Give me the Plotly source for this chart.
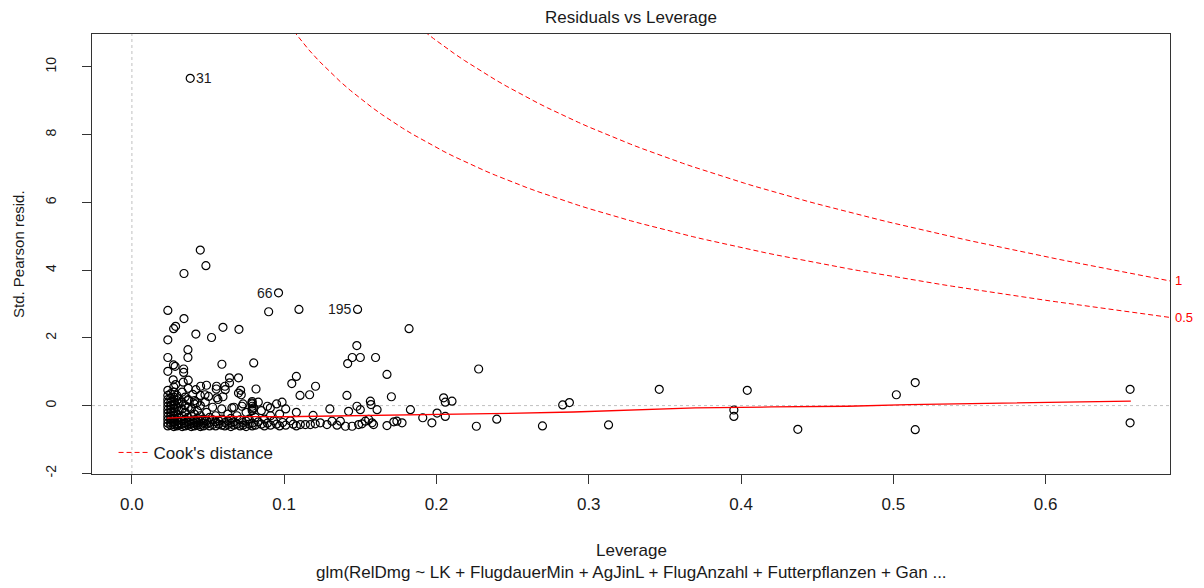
import numpy as np
import plotly.graph_objects as go

# ---- observations: leverage (hat values) and standardized Pearson residuals ----
# labelled observations
id_labels = ["31", "66", "195"]
id_leverage = [0.0383, 0.0963, 0.1482]
id_resid = [9.66, 3.33, 2.84]

# points well above zero
high_leverage = [0.0449, 0.0486, 0.0342, 0.0898, 0.1097, 0.0236, 0.0342, 0.0287, 0.0274,
                 0.0420, 0.0598, 0.0703, 0.1820, 0.0236, 0.0523, 0.2277, 0.1477, 0.1417,
                 0.1447, 0.1500, 0.1600, 0.1675, 0.1704, 0.1412, 0.0236, 0.0236, 0.0368,
                 0.0368, 0.0273, 0.0284, 0.0340, 0.0340, 0.0591, 0.0800]
high_resid = [4.59, 4.13, 3.90, 2.77, 2.84, 2.81, 2.57, 2.34, 2.27,
              2.11, 2.31, 2.25, 2.27, 1.94, 2.01, 1.08, 1.77, 1.24,
              1.42, 1.42, 1.42, 0.92, 0.26, 0.30, 1.42, 1.01, 1.65,
              1.42, 1.20, 1.16, 1.08, 0.98, 1.22, 1.26]

# points around zero
mid_leverage = [0.0271, 0.0287, 0.0370, 0.0337, 0.0641, 0.0700, 0.0641, 0.0611, 0.0451,
                0.0490, 0.0556, 0.0554, 0.0370, 0.0420, 0.0400, 0.0449, 0.0411, 0.0482,
                0.0503, 0.0565, 0.0598, 0.0714, 0.0718, 0.0815, 0.1050, 0.1080, 0.1206,
                0.1167, 0.1104, 0.0986, 0.1300, 0.1478, 0.1500, 0.1566, 0.1570, 0.1610,
                0.1829, 0.2047, 0.2058, 0.2102, 0.2004, 0.2058, 0.1423, 0.1190, 0.0613,
                0.0657, 0.0700, 0.0723, 0.0788, 0.0800, 0.0909, 0.0427, 0.0480, 0.0558,
                0.0370, 0.0790, 0.0790, 0.0790, 0.0790]
mid_resid = [0.76, 0.62, 0.75, 0.69, 0.82, 0.82, 0.67, 0.57, 0.57,
             0.60, 0.57, 0.49, 0.51, 0.47, 0.33, 0.30, 0.15, 0.10,
             0.27, 0.18, 0.26, 0.45, 0.32, 0.49, 0.65, 0.86, 0.57,
             0.32, 0.30, 0.10, -0.10, -0.02, -0.12, 0.13, 0.03, -0.12,
             -0.12, 0.23, 0.10, 0.13, -0.22, -0.32, -0.17, -0.29, 0.47,
             -0.07, 0.37, -0.02, 0.08, -0.07, -0.07, 0.08, 0.32, 0.23,
             0.18, 0.12, 0.05, -0.02, -0.10]

# dense band of small negative residuals
band_leverage = [
    0.0236, 0.0236, 0.0236, 0.0236, 0.0236, 0.0236, 0.0236, 0.0236, 0.0236, 0.0236, 0.0236,
    0.0255, 0.0255, 0.0255, 0.0255, 0.0255, 0.0255, 0.0255, 0.0255, 0.0255, 0.0255,
    0.0275, 0.0275, 0.0275, 0.0275, 0.0275, 0.0275, 0.0275, 0.0275, 0.0275, 0.0275, 0.0275, 0.0275,
    0.0295, 0.0295, 0.0295, 0.0295, 0.0295, 0.0295, 0.0295,
    0.0310, 0.0310, 0.0310, 0.0310, 0.0310, 0.0310,
    0.0330, 0.0330, 0.0330, 0.0330, 0.0330, 0.0330, 0.0330,
    0.0350, 0.0350, 0.0350, 0.0350, 0.0350, 0.0350,
    0.0370, 0.0370, 0.0370, 0.0370, 0.0370,
    0.0390, 0.0390, 0.0390, 0.0390, 0.0390,
    0.0410, 0.0410, 0.0410, 0.0410, 0.0410,
    0.0430, 0.0430, 0.0430, 0.0430,
    0.0450, 0.0450, 0.0450, 0.0450, 0.0450,
    0.0470, 0.0470, 0.0470,
    0.0490, 0.0490, 0.0490,
    0.0510, 0.0510, 0.0510,
    0.0530, 0.0530, 0.0530,
    0.0550, 0.0550, 0.0550,
    0.0570, 0.0570,
    0.0590, 0.0590, 0.0590,
    0.0610, 0.0610,
    0.0630, 0.0630, 0.0630,
    0.0650, 0.0650, 0.0650,
    0.0670, 0.0670, 0.0670,
    0.0690, 0.0690,
    0.0710, 0.0710,
    0.0730, 0.0730, 0.0730,
    0.0750, 0.0750, 0.0750,
    0.0770, 0.0770,
    0.0790, 0.0790, 0.0790,
    0.0810, 0.0810,
    0.0830, 0.0830,
    0.0850, 0.0850,
    0.0870, 0.0870,
    0.0890, 0.0890,
    0.0910, 0.0910,
    0.0930,
    0.0950, 0.0950,
    0.0970, 0.0970,
    0.0990,
    0.1010, 0.1010,
    0.1040,
    0.1060,
    0.1080, 0.1080,
    0.1106, 0.1139, 0.1172, 0.1204, 0.1237, 0.1281, 0.1314, 0.1347, 0.1369, 0.1402,
    0.1446, 0.1489, 0.1511, 0.1533, 0.1555, 0.1577, 0.1587,
]
band_resid = [
    0.45, 0.30, 0.18, 0.08, -0.02, -0.12, -0.22, -0.32, -0.42, -0.52, -0.60,
    0.35, 0.22, 0.10, 0.00, -0.10, -0.20, -0.30, -0.40, -0.50, -0.58,
    0.55, 0.40, 0.25, 0.12, 0.02, -0.08, -0.18, -0.28, -0.38, -0.48, -0.56, -0.62,
    0.30, 0.15, -0.05, -0.25, -0.45, -0.55, -0.60,
    0.20, 0.05, -0.15, -0.35, -0.50, -0.58,
    0.40, 0.10, -0.10, -0.30, -0.45, -0.55, -0.62,
    0.25, 0.00, -0.20, -0.40, -0.52, -0.60,
    0.15, -0.05, -0.35, -0.48, -0.58,
    -0.10, -0.30, -0.45, -0.55, -0.62,
    0.05, -0.25, -0.42, -0.52, -0.60,
    -0.15, -0.38, -0.50, -0.58,
    0.00, -0.30, -0.46, -0.56, -0.62,
    -0.40, -0.52, -0.60,
    -0.20, -0.45, -0.55,
    -0.35, -0.50, -0.60,
    -0.05, -0.42, -0.56,
    -0.30, -0.48, -0.60,
    -0.45, -0.55,
    -0.10, -0.40, -0.58,
    -0.50, -0.60,
    -0.25, -0.45, -0.56,
    -0.38, -0.52, -0.62,
    -0.05, -0.48, -0.58,
    -0.30, -0.55,
    -0.42, -0.60,
    0.05, -0.50, -0.58,
    -0.20, -0.46, -0.62,
    -0.40, -0.55,
    -0.15, -0.52, -0.60,
    -0.35, -0.58,
    0.10, -0.48,
    -0.15, -0.55,
    -0.40, -0.60,
    -0.02, -0.52,
    -0.30, -0.58,
    -0.45,
    0.05, -0.55,
    -0.25, -0.60,
    -0.50,
    -0.10, -0.58,
    -0.45,
    -0.55,
    -0.20, -0.60,
    -0.56, -0.56, -0.56, -0.54, -0.51, -0.56, -0.46, -0.58, -0.46, -0.61,
    -0.61, -0.56, -0.54, -0.46, -0.41, -0.51, -0.56,
]

# sparse points at higher leverage
right_leverage = [0.2262, 0.1970, 0.1910, 0.1740, 0.1774, 0.1720, 0.1675, 0.2396, 0.2696,
                  0.2829, 0.2873, 0.3130, 0.3463, 0.3953, 0.3953, 0.4041, 0.4373, 0.5020,
                  0.5144, 0.5144, 0.6555, 0.6555]
right_resid = [-0.61, -0.51, -0.36, -0.46, -0.51, -0.48, -0.59, -0.40, -0.60,
               0.02, 0.09, -0.57, 0.48, -0.13, -0.32, 0.45, -0.70, 0.32,
               0.68, -0.71, 0.48, -0.51]

# smoother through the residuals
smooth_leverage = [0.023, 0.050, 0.100, 0.150, 0.190, 0.235, 0.290, 0.340, 0.370,
                   0.420, 0.470, 0.510, 0.540, 0.600, 0.656]
smooth_resid = [-0.37, -0.32, -0.33, -0.30, -0.27, -0.24, -0.19, -0.12, -0.07,
                -0.04, -0.02, 0.03, 0.05, 0.09, 0.13]

# Cook's distance contours
n_params = 29
cook_levels = [0.5, 1.0]

x_range = [-0.0262, 0.6817]
y_range = [-2.02, 10.97]
x_ticks = [0.0, 0.1, 0.2, 0.3, 0.4, 0.5, 0.6]
y_ticks = [-2, 0, 2, 4, 6, 8, 10]

leverage = id_leverage + high_leverage + mid_leverage + band_leverage + right_leverage
std_resid = id_resid + high_resid + mid_resid + band_resid + right_resid

FONT = "Liberation Sans, Arial, sans-serif"
INK = "#1a1a1a"

fig = go.Figure()

fig.add_trace(go.Scatter(
    x=leverage, y=std_resid, mode="markers", showlegend=False,
    marker=dict(symbol="circle-open", size=8, color="black", line=dict(width=1.2, color="black")),
    hoverinfo="x+y",
))

fig.add_trace(go.Scatter(
    x=smooth_leverage, y=smooth_resid, mode="lines", showlegend=False,
    line=dict(color="#ff0000", width=1.3),
))

hh = np.linspace(0.0005, x_range[1], 101)
for i, level in enumerate(cook_levels):
    fig.add_trace(go.Scatter(
        x=hh, y=np.sqrt(level * n_params * (1 - hh) / hh), mode="lines",
        name="Cook's distance", showlegend=(i == 0),
        line=dict(color="#ff0000", width=1, dash="5px,3px"),
    ))

# contour labels at the right edge
for level in cook_levels:
    y_end = float(np.sqrt(level * n_params * (1 - x_range[1]) / x_range[1]))
    fig.add_annotation(
        x=1, xref="paper", y=y_end, yref="y", text=f"{level:g}", showarrow=False,
        xanchor="left", yanchor="middle", xshift=3,
        font=dict(family=FONT, size=13, color="#ff0000"),
    )

# labels of the most extreme observations
for lab, hx, ry in zip(id_labels, id_leverage, id_resid):
    right_side = hx < 0.05
    fig.add_annotation(
        x=hx, y=ry, text=lab, showarrow=False,
        xanchor="left" if right_side else "right", yanchor="middle",
        xshift=4 if right_side else -4,
        font=dict(family=FONT, size=14, color=INK),
    )

# dotted reference lines at zero
fig.add_shape(type="line", xref="x", yref="paper", x0=0, x1=0, y0=0, y1=1,
              line=dict(color="#c0c0c0", width=1, dash="dot"), layer="below")
fig.add_shape(type="line", xref="paper", yref="y", x0=0, x1=1, y0=0, y1=0,
              line=dict(color="#c0c0c0", width=1, dash="dot"), layer="below")

# titles
fig.add_annotation(x=0.5, xref="paper", y=1, yref="paper", yanchor="bottom", yshift=5,
                   text="Residuals vs Leverage", showarrow=False,
                   font=dict(family=FONT, size=17, color=INK))
fig.add_annotation(x=0.5, xref="paper", y=0, yref="paper", yanchor="middle", yshift=-76,
                   text="Leverage", showarrow=False,
                   font=dict(family=FONT, size=17, color=INK))
fig.add_annotation(x=0.5, xref="paper", y=0, yref="paper", yanchor="middle", yshift=-98,
                   text="glm(RelDmg ~ LK + FlugdauerMin + AgJinL + FlugAnzahl + Futterpflanzen + Gan ...",
                   showarrow=False, font=dict(family=FONT, size=17, color=INK))
fig.add_annotation(x=0, xref="paper", y=0.5, yref="paper", xanchor="center", xshift=-74,
                   text="Std. Pearson resid.", textangle=-90, showarrow=False,
                   font=dict(family=FONT, size=15, color=INK))

fig.update_xaxes(
    range=x_range, tickvals=x_ticks, ticktext=[f"{v:.1f}" for v in x_ticks],
    showgrid=False, zeroline=False, ticks="outside", ticklen=9, tickcolor="#333",
    showline=True, linecolor="#333", linewidth=1, mirror=True,
    tickfont=dict(family=FONT, size=17, color=INK), ticklabelstandoff=6,
)
fig.update_yaxes(
    range=y_range, tickvals=y_ticks, ticktext=[str(v) for v in y_ticks],
    showgrid=False, zeroline=False, ticks="outside", ticklen=9, tickcolor="#333",
    showline=True, linecolor="#333", linewidth=1, mirror=True, tickangle=-90,
    tickfont=dict(family=FONT, size=14, color=INK), ticklabelstandoff=20,
)

fig.update_layout(
    width=1204, height=588,
    margin=dict(l=92, r=34, t=34, b=114),
    paper_bgcolor="white", plot_bgcolor="white",
    legend=dict(x=0.02, y=0.048, xanchor="left", yanchor="middle",
                bgcolor="rgba(0,0,0,0)", borderwidth=0,
                font=dict(family=FONT, size=17, color=INK)),
    hovermode="closest",
)

fig.write_html("out.html")
